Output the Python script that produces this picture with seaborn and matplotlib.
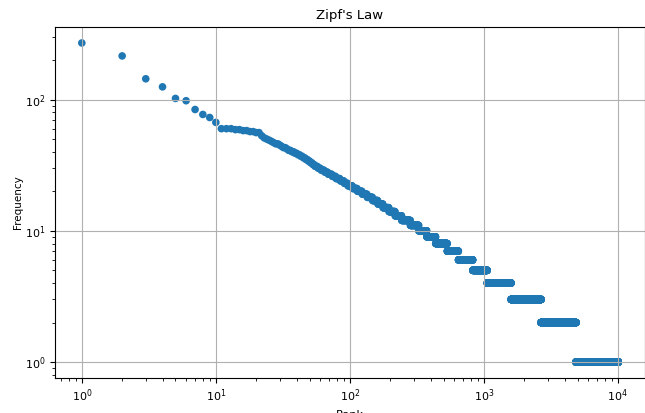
import matplotlib
matplotlib.use("Agg")
import matplotlib.pyplot as plt
import seaborn as sns
import numpy as np
import pandas as pd

# Word frequency levels (highest first) and how many words share each level
freq_levels = [270, 215, 144, 125, 102, 98, 84, 77, 73, 67,
               60, 59, 58, 57, 56, 53, 51, 50, 49, 48, 47, 46, 45, 44, 43,
               42, 41, 40, 39, 38, 37, 36, 35, 34, 33, 32, 31, 30, 29, 28,
               27, 26, 25, 24, 23, 22, 21, 20, 19, 18, 17, 16, 15, 14, 13,
               12, 11, 10, 9, 8, 7, 6, 5, 4, 3, 2, 1]
word_counts = [1, 1, 1, 1, 1, 1, 1, 1, 1, 1,
               3, 2, 2, 2, 2, 1, 1, 1, 1, 1, 1, 2, 1, 1, 2,
               1, 2, 2, 2, 2, 2, 2, 2, 2, 2, 2, 3, 3, 4, 4,
               5, 5, 6, 6, 6, 8, 9, 10, 11, 13, 14, 15, 19, 22, 26,
               39, 44, 48, 62, 96, 113, 180, 233, 537, 1075, 2195, 5185]

# Build rank / frequency table
freq = np.repeat(freq_levels, word_counts)
df = pd.DataFrame({"rank": np.arange(1, len(freq) + 1), "frequency": freq})

# === Zipf plot ===
plt.rcParams["font.size"] = 8
fig = plt.figure(figsize=(6.45, 4.13), dpi=100)
ax = fig.add_axes([55 / 645, 35 / 413, 590 / 645, 351 / 413])
sns.scatterplot(data=df, x="rank", y="frequency", s=30, color="#1f77b4",
                edgecolor="none", linewidth=0, ax=ax)
ax.set_xscale("log")
ax.set_yscale("log")
ax.set_title("Zipf's Law", fontsize=9.5)
ax.set_xlabel("Rank", fontsize=8)
ax.set_ylabel("Frequency", fontsize=7.5, labelpad=1)
ax.grid(True)
fig.savefig("out.png", dpi=100)
plt.close(fig)
